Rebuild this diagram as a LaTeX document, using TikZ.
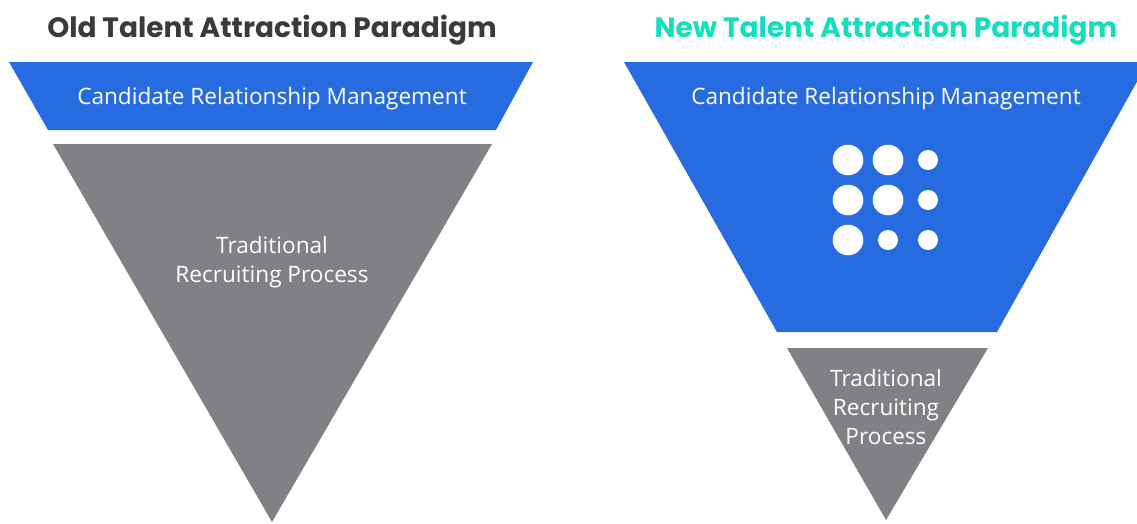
\documentclass[tikz,border=0pt]{standalone}
\usepackage{fontspec}
\setmainfont{Open Sans}
\newfontfamily\headfont{Poppins}[UprightFont=* Bold]
\definecolor{crmblue}{RGB}{38,107,224}
\definecolor{procgray}{RGB}{128,129,133}
\definecolor{headdark}{RGB}{58,58,58}
\definecolor{headteal}{RGB}{20,222,188}
\begin{document}
\begin{tikzpicture}[x=1pt,y=-1pt,
  heading/.style={font=\headfont\fontsize{28}{32}\selectfont, anchor=base},
  funnel/.style={fill=crmblue},
  process/.style={fill=procgray},
  bodytext/.style={text=white, font=\fontsize{22.6}{29}\selectfont, align=center},
  dot/.style={fill=white}]
\useasboundingbox (0,0) rectangle (1137,523);
\clip (0,0) rectangle (1137,523);

% left: old paradigm
\node[heading, text=headdark] (oldtitle) at (272,37) {Old Talent Attraction Paradigm};
\fill[funnel] (9,62) -- (533,62) -- (496,130) -- (48,130) -- cycle;
\node[bodytext] (oldcrm) at (272,99) {Candidate Relationship Management};
\fill[process] (53,144) -- (492,144) -- (272,522) -- cycle;
\node[bodytext] (oldproc) at (272,262) {Traditional\\Recruiting Process};

% right: new paradigm
\node[heading, text=headteal] (newtitle) at (886,37) {New Talent Attraction Paradigm};
\fill[funnel] (624,62) -- (1148,62) -- (997,332) -- (777,332) -- cycle;
\node[bodytext] (newcrm) at (886,98.5) {Candidate Relationship Management};
\foreach \cx/\cy/\r in {848/160/15.3, 888/160/15.3, 928/160/10,
                        848/200/15.3, 888/200/15.3, 928/200/10,
                        848/240/15.3, 888/240/10,   928/240/10}
  \fill[dot] (\cx,\cy) circle[radius=\r];
\fill[process] (787,348) -- (988,348) -- (886,520) -- cycle;
\node[bodytext] (newproc) at (886,407) {Traditional\\Recruiting\\Process};
\end{tikzpicture}
\end{document}
